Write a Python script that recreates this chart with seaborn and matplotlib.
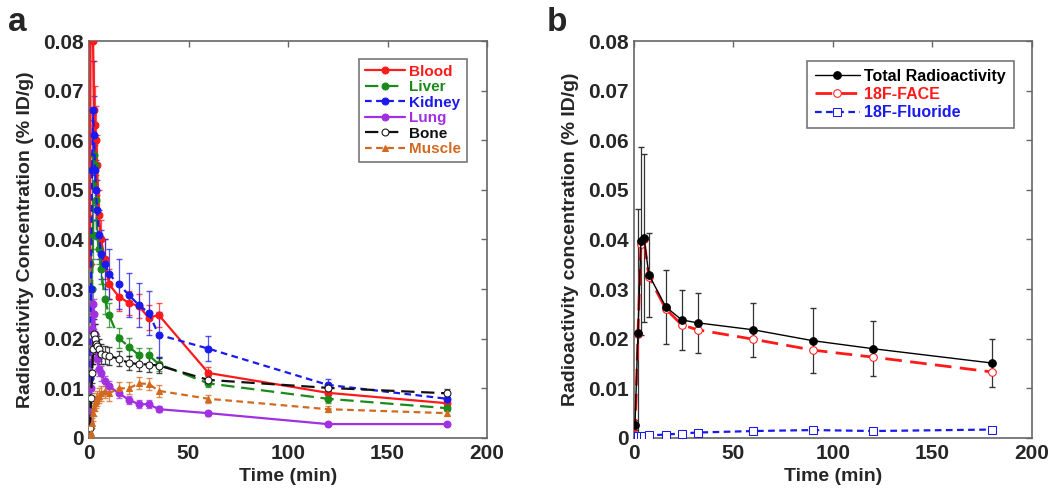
import numpy as np
import pandas as pd
import matplotlib
matplotlib.use("Agg")
import matplotlib.pyplot as plt
import seaborn as sns

# panel a : tissue time-activity curves
t_a = [0.5, 1, 1.5, 2, 2.5, 3, 3.5, 4, 5, 6, 8, 10, 15, 20, 25, 30, 35, 60, 120, 180]
blood  = [0.035, 0.13, 0.10, 0.08, 0.066, 0.063, 0.06, 0.055, 0.045, 0.040, 0.036, 0.031, 0.0285, 0.0272, 0.0266, 0.0242, 0.0248, 0.0131, 0.0091, 0.0070]
liver  = [0.005, 0.013, 0.030, 0.041, 0.057, 0.055, 0.048, 0.041, 0.038, 0.034, 0.028, 0.0248, 0.0201, 0.0184, 0.0167, 0.0167, 0.0149, 0.011, 0.0079, 0.006]
kidney = [0.012, 0.030, 0.054, 0.066, 0.061, 0.054, 0.050, 0.046, 0.041, 0.037, 0.035, 0.033, 0.031, 0.0288, 0.0268, 0.0252, 0.0208, 0.018, 0.0107, 0.0079]
lung   = [0.003, 0.010, 0.022, 0.027, 0.025, 0.021, 0.018, 0.016, 0.014, 0.013, 0.0115, 0.0105, 0.009, 0.0077, 0.0068, 0.0068, 0.0058, 0.005, 0.0028, 0.0028]
bone   = [0.002, 0.008, 0.013, 0.018, 0.021, 0.020, 0.019, 0.0185, 0.018, 0.017, 0.0168, 0.0165, 0.016, 0.0151, 0.0149, 0.0148, 0.0146, 0.0117, 0.0101, 0.009]
muscle = [0.0, 0.001, 0.003, 0.005, 0.006, 0.007, 0.0075, 0.008, 0.0085, 0.009, 0.0095, 0.009, 0.0100, 0.0100, 0.011, 0.0109, 0.0095, 0.0079, 0.0058, 0.005]

blood_err  = [0.01, 0.03, 0.02, 0.015, 0.01, 0.008, 0.007, 0.006, 0.005, 0.004, 0.004, 0.003, 0.003, 0.0025, 0.0025, 0.0025, 0.0025, 0.0012, 0.0008, 0.0006]
liver_err  = [0.002, 0.004, 0.005, 0.005, 0.004, 0.004, 0.004, 0.003, 0.003, 0.003, 0.003, 0.0025, 0.002, 0.0018, 0.0015, 0.0015, 0.0015, 0.0008, 0.0008, 0.0006]
kidney_err = [0.004, 0.008, 0.01, 0.01, 0.008, 0.007, 0.006, 0.006, 0.005, 0.005, 0.005, 0.005, 0.005, 0.0045, 0.0045, 0.0045, 0.0045, 0.0025, 0.0012, 0.0008]
lung_err   = [0.001, 0.002, 0.003, 0.003, 0.003, 0.002, 0.002, 0.002, 0.0015, 0.0015, 0.001, 0.001, 0.001, 0.0008, 0.0008, 0.0008, 0.0006, 0.0005, 0.0003, 0.0003]
bone_err   = [0.001, 0.002, 0.002, 0.003, 0.003, 0.003, 0.002, 0.002, 0.002, 0.002, 0.0018, 0.0018, 0.0015, 0.0015, 0.0015, 0.0015, 0.0015, 0.0008, 0.0008, 0.0008]
muscle_err = [0.0005, 0.001, 0.001, 0.0015, 0.0015, 0.0015, 0.0015, 0.0015, 0.0015, 0.0015, 0.0015, 0.0015, 0.0012, 0.0012, 0.0012, 0.0012, 0.0012, 0.0008, 0.0006, 0.0005]

# panel b : plasma metabolite analysis
t_b = [0.5, 2, 3.5, 5, 7.5, 16, 24, 32, 60, 90, 120, 180]
total    = [0.0026, 0.0212, 0.0397, 0.0403, 0.0329, 0.0264, 0.0238, 0.0232, 0.0218, 0.0196, 0.0180, 0.0151]
total_err = [0.001, 0.025, 0.019, 0.017, 0.0085, 0.0075, 0.006, 0.006, 0.0055, 0.0065, 0.0055, 0.0048]
face     = [0.0005, 0.0210, 0.0390, 0.0400, 0.0325, 0.0260, 0.0228, 0.0218, 0.0199, 0.0177, 0.0163, 0.0133]
fluoride = [0.0003, 0.0004, 0.0004, 0.0004, 0.0005, 0.0007, 0.0009, 0.0011, 0.0014, 0.0016, 0.0014, 0.0017]
fluoride_err = [0.0002, 0.0002, 0.0002, 0.0002, 0.0003, 0.0003, 0.0003, 0.0003, 0.0004, 0.0005, 0.0005, 0.0006]

sns.set_style("white")
plt.rcParams['font.family'] = ['Liberation Sans', 'DejaVu Sans']
plt.rcParams['font.weight'] = 'bold'

fig = plt.figure(figsize=(10.5, 4.94), dpi=100)
ax1 = fig.add_axes([0.0848, 0.1134, 0.379, 0.8036])
ax2 = fig.add_axes([0.6038, 0.1134, 0.379, 0.8036])

tissues = [
    ("Blood",  blood,  blood_err,  "#ff1a1a", "-",          "o", True),
    ("Liver",  liver,  liver_err,  "#1a8a1a", (0, (6, 3)),  "o", True),
    ("Kidney", kidney, kidney_err, "#1a1aee", (0, (3, 2)),  "o", True),
    ("Lung",   lung,   lung_err,   "#a030e0", "-",          "o", True),
    ("Bone",   bone,   bone_err,   "#111111", (0, (6, 3)),  "o", False),
    ("Muscle", muscle, muscle_err, "#d2691e", (0, (3, 2)),  "^", True),
]

for name, vals, err, col, ls, mk, filled in tissues:
    ax1.errorbar(t_a, vals, yerr=err, fmt='none', ecolor=col, elinewidth=0.9,
                 capsize=2.5, alpha=0.75, zorder=2)
    sns.lineplot(x=t_a, y=vals, ax=ax1, color=col, linestyle=ls, linewidth=1.6,
                 marker=mk, markersize=5, markeredgecolor=col,
                 markerfacecolor=col if filled else 'white', label=name, zorder=3)

ax2.errorbar(t_b, total, yerr=total_err, fmt='none', ecolor='#333333', elinewidth=0.9,
             capsize=2.5, zorder=2)
ax2.errorbar(t_b, fluoride, yerr=fluoride_err, fmt='none', ecolor='#1a1aee', elinewidth=0.9,
             capsize=2.5, zorder=2)
sns.lineplot(x=t_b, y=total, ax=ax2, color='black', linestyle='-', linewidth=1.0,
             marker='o', markersize=5.5, markeredgecolor='black', markerfacecolor='black',
             label='Total Radioactivity', zorder=4)
sns.lineplot(x=t_b, y=face, ax=ax2, color='#ff1a1a', linestyle=(0, (6, 3)), linewidth=2.0,
             marker='o', markersize=5.5, markeredgecolor='#ff1a1a', markerfacecolor='white',
             label='18F-FACE', zorder=3)
sns.lineplot(x=t_b, y=fluoride, ax=ax2, color='#1a1aee', linestyle=(0, (3, 2)), linewidth=1.6,
             marker='s', markersize=5.5, markeredgecolor='#1a1aee', markerfacecolor='white',
             label='18F-Fluoride', zorder=3)

for ax in (ax1, ax2):
    ax.set_xlim(0, 200)
    ax.set_ylim(0, 0.08)
    ax.set_xticks([0, 50, 100, 150, 200])
    ax.set_yticks(np.arange(0, 0.081, 0.01))
    ax.set_yticklabels(['0'] + ['%.2f' % v for v in np.arange(0.01, 0.081, 0.01)])
    ax.tick_params(direction='in', length=4, width=1, color='#666666',
                   top=True, right=True, labelsize=15, pad=4)
    for lbl in ax.get_xticklabels() + ax.get_yticklabels():
        lbl.set_fontweight('bold')
    for sp in ax.spines.values():
        sp.set_color('#666666')
        sp.set_linewidth(1.2)
    ax.set_xlabel('Time (min)', fontsize=14, fontweight='bold')

ax1.set_ylabel('Radioactivity Concentration (% ID/g)', fontsize=14, fontweight='bold', labelpad=6)
ax2.set_ylabel('Radioactivity concentration (% ID/g)', fontsize=14, fontweight='bold', labelpad=6)

leg1 = ax1.legend(loc='upper right', bbox_to_anchor=(0.97, 0.975), fontsize=11,
                  labelcolor='linecolor', frameon=True, fancybox=False, handlelength=2.6,
                  borderpad=0.4, labelspacing=0.1, handletextpad=0.3)
leg2 = ax2.legend(loc='upper right', bbox_to_anchor=(0.975, 0.97), fontsize=11.5,
                  labelcolor='linecolor', frameon=True, fancybox=False, handlelength=2.8,
                  borderpad=0.5, labelspacing=0.2, handletextpad=0.3)
for leg in (leg1, leg2):
    leg.get_frame().set_edgecolor('#555555')
    leg.get_frame().set_linewidth(1.2)
    for txt in leg.get_texts():
        txt.set_fontweight('bold')

fig.text(0.008, 0.955, 'a', fontsize=24, fontweight='bold', va='center')
fig.text(0.521, 0.955, 'b', fontsize=24, fontweight='bold', va='center')

fig.savefig('out.png', dpi=100)
